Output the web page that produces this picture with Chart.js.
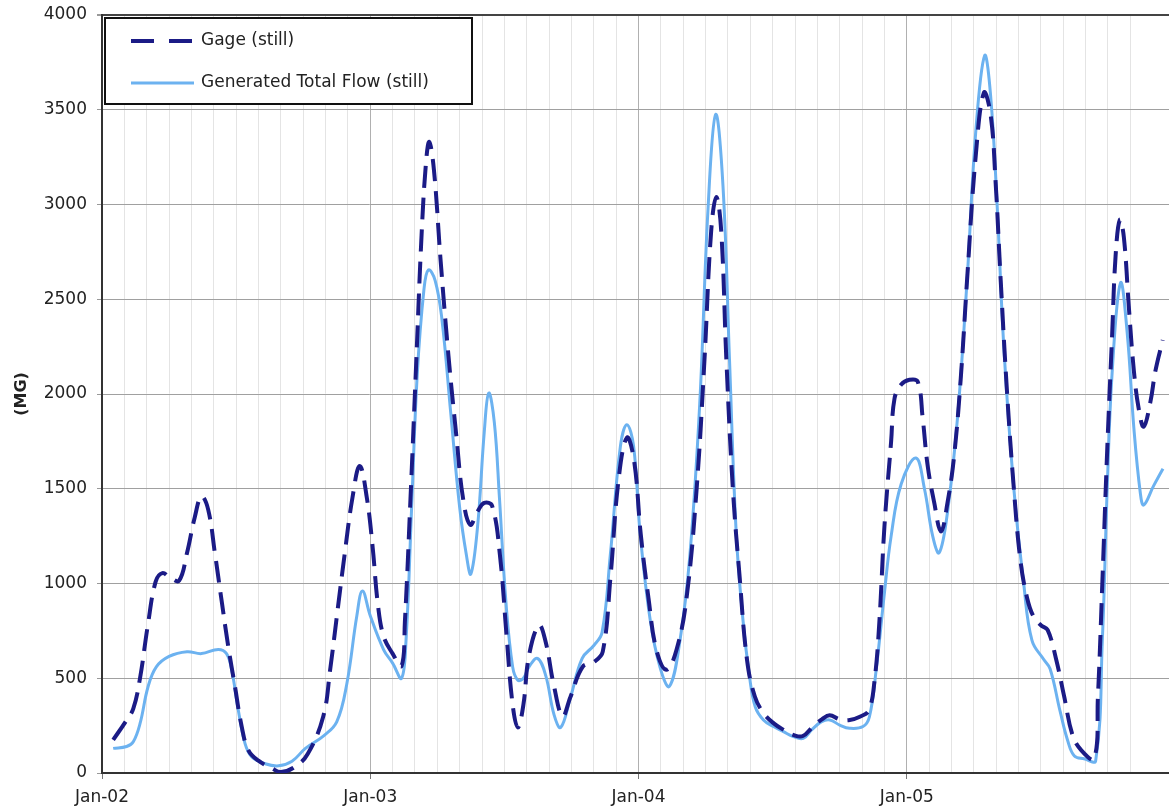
<!DOCTYPE html>
<html>
<head>
<meta charset="utf-8">
<title>Gage vs Generated Total Flow</title>
<script src="https://cdn.jsdelivr.net/npm/chart.js@4.4.1/dist/chart.umd.min.js"></script>
<style>
  html, body { margin: 0; padding: 0; background: #ffffff; overflow: hidden; }
  #flow-chart-canvas { display: block; }
</style>
</head>
<body>
<canvas id="flow-chart-canvas" width="1169" height="812"></canvas>
<script>
// x = months counted from Jan-02
const yearLabels = ['Jan-02', 'Jan-03', 'Jan-04', 'Jan-05'];

const gageMonths = [0.5, 1.05, 1.4, 1.7, 2.05, 2.4, 2.7, 3.05, 3.45, 3.8, 4.15, 4.45, 4.75, 5.05, 5.35, 5.65, 5.95, 6.25, 6.55, 7.0,
  7.6, 8.0, 8.6, 9.2, 9.9, 10.2, 10.55, 10.85, 11.2, 11.53, 11.85, 12.1, 12.35, 12.6, 13.0, 13.4, 13.55, 13.8, 14.05, 14.3,
  14.5, 14.64, 14.85, 15.15, 15.5, 15.85, 16.15, 16.47, 16.8, 17.1, 17.45, 17.8, 18.1, 18.37, 18.6, 18.85, 19.1, 19.55, 19.85, 20.2,
  20.6, 20.95, 21.5, 22.0, 22.4, 22.75, 23.1, 23.48, 23.8, 24.1, 24.45, 24.8, 25.25, 25.7, 26.15, 26.6, 26.95, 27.25, 27.48, 27.7,
  27.93, 28.22, 28.52, 28.85, 29.2, 29.6, 30.05, 30.5, 30.95, 31.35, 31.8, 32.2, 32.55, 33.0, 33.45, 33.9, 34.3, 34.56, 34.78, 35.0,
  35.3, 35.45, 35.75, 36.12, 36.49, 36.71, 36.93, 37.23, 37.53, 37.82, 38.12, 38.41, 38.71, 39.08, 39.45, 39.75, 39.97, 40.19, 40.49, 40.79,
  41.08, 41.38, 41.67, 42.0, 42.3, 42.67, 43.04, 43.41, 43.8, 44.38, 44.55, 44.75, 44.97, 45.19, 45.34, 45.53, 45.71, 45.93, 46.16, 46.38,
  46.6, 46.9, 47.12, 47.45];
const gageValues = [175, 270, 340, 500, 780, 1010, 1055, 1030, 1015, 1160, 1350, 1460, 1390, 1160, 910, 665, 455, 245, 120, 65,
  25, 5, 30, 100, 300, 540, 870, 1150, 1450, 1620, 1450, 1200, 880, 720, 630, 565, 800, 1450, 2150, 2850,
  3230, 3330, 3180, 2700, 2200, 1780, 1450, 1310, 1380, 1425, 1410, 1150, 720, 360, 240, 360, 620, 780, 690, 470,
  300, 400, 560, 585, 640, 1040, 1540, 1770, 1650, 1260, 920, 650, 545, 650, 925, 1500, 2180, 2860, 3040, 2860,
  2180, 1500, 1040, 600, 405, 315, 262, 227, 200, 195, 245, 283, 305, 283, 280, 297, 330, 490, 810, 1300,
  1750, 1975, 2050, 2075, 2065, 1875, 1625, 1425, 1275, 1425, 1675, 2075, 2625, 3250, 3590, 3475, 3125, 2625, 2000, 1500,
  1125, 925, 825, 780, 755, 606, 404, 202, 121, 75, 400, 1010, 1717, 2323, 2727, 2919, 2828, 2465, 2121, 1919,
  1828, 1960, 2121, 2285];

const flowMonths = [0.5, 1.1, 1.4, 1.7, 2.06, 2.43, 3.0, 3.8, 4.45, 5.2, 5.57, 5.8, 6.1, 6.4, 6.7, 7.3, 7.9, 8.5, 9.1, 9.9,
  10.5, 10.95, 11.4, 11.65, 12.0, 12.6, 13.0, 13.4, 13.6, 13.85, 14.1, 14.4, 14.6, 14.9, 15.2, 15.6, 16.0, 16.3, 16.5, 16.8,
  17.1, 17.3, 17.55, 17.78, 18.07, 18.37, 18.6, 18.85, 19.1, 19.48, 19.85, 20.22, 20.52, 20.96, 21.48, 22.0, 22.37, 22.74, 23.19, 23.48,
  23.78, 24.07, 24.52, 24.96, 25.38, 25.85, 26.3, 26.74, 27.11, 27.45, 27.78, 28.07, 28.37, 28.67, 28.96, 29.22, 29.59, 30.04, 30.48, 30.93,
  31.37, 31.74, 32.19, 32.56, 33.0, 33.44, 34.04, 34.33, 34.63, 35.0, 35.3, 35.75, 36.41, 36.79, 37.16, 37.45, 37.82, 38.27, 38.71, 39.08,
  39.48, 39.75, 40.04, 40.34, 40.79, 41.23, 41.6, 42.12, 42.41, 42.86, 43.2, 43.5, 43.93, 44.45, 44.75, 44.97, 45.19, 45.56, 45.86, 46.16,
  46.45, 46.6, 47.04, 47.46];
const flowValues = [130, 140, 165, 260, 455, 560, 615, 640, 630, 652, 630, 545, 330, 155, 85, 49, 38, 62, 130, 195,
  270, 470, 830, 960, 830, 650, 580, 500, 700, 1400, 2100, 2550, 2655, 2600, 2400, 1900, 1400, 1150, 1050, 1300,
  1800, 2005, 1850, 1450, 900, 560, 490, 500, 560, 605, 514, 308, 240, 400, 605, 673, 742, 1153, 1724, 1838,
  1724, 1267, 810, 559, 457, 696, 1153, 1952, 2979, 3475, 3094, 2180, 1267, 810, 514, 350, 280, 245, 218, 192,
  183, 227, 271, 280, 253, 236, 245, 297, 544, 950, 1250, 1525, 1662, 1500, 1250, 1162, 1375, 1875, 2625, 3375,
  3785, 3575, 3000, 2250, 1500, 1000, 700, 600, 550, 325, 170, 90, 75, 65, 707, 1515, 2121, 2586, 2323, 1818,
  1475, 1414, 1515, 1606];

const axisFont = { family: 'DejaVu Sans', size: 17 };

function isYearTick(ctx) {
  return ctx.tick && Number.isInteger(ctx.tick.value) && ctx.tick.value % 12 === 0;
}

// legend drawn as a framed box inside the plot, like the original
const boxLegend = {
  id: 'boxLegend',
  afterDatasetsDraw(chart) {
    const { ctx, chartArea } = chart;
    const left = chartArea.left + 3;
    const top = chartArea.top + 3;
    ctx.save();
    ctx.fillStyle = '#ffffff';
    ctx.fillRect(left, top, 367, 86);
    ctx.strokeStyle = '#111111';
    ctx.lineWidth = 2;
    ctx.strokeRect(left, top, 367, 86);
    chart.data.datasets.forEach((ds, i) => {
      const y = top + 23 + i * 42;
      ctx.beginPath();
      ctx.setLineDash(ds.borderDash ? [23, 15] : []);
      ctx.strokeStyle = ds.borderColor;
      ctx.lineWidth = ds.borderWidth;
      ctx.moveTo(left + 26, y);
      ctx.lineTo(left + 89, y);
      ctx.stroke();
      ctx.setLineDash([]);
      ctx.fillStyle = '#222222';
      ctx.font = '17px "DejaVu Sans"';
      ctx.textBaseline = 'middle';
      ctx.fillText(ds.label, left + 96, y);
    });
    ctx.restore();
  }
};

const ctx = document.getElementById('flow-chart-canvas').getContext('2d');
new Chart(ctx, {
  type: 'line',
  data: {
    datasets: [{
      label: 'Gage (still)',
      data: gageMonths.map((m, i) => ({ x: m, y: gageValues[i] })),
      borderColor: '#1b1b86',
      borderWidth: 4,
      borderDash: [22, 10],
      tension: 0.4,
      pointRadius: 0,
      fill: false
    }, {
      label: 'Generated Total Flow (still)',
      data: flowMonths.map((m, i) => ({ x: m, y: flowValues[i] })),
      borderColor: '#6cb2f0',
      borderWidth: 3,
      tension: 0.4,
      pointRadius: 0,
      fill: false
    }]
  },
  options: {
    responsive: false,
    animation: false,
    layout: { padding: { top: 15, left: 0, right: 0, bottom: 0 } },
    plugins: {
      legend: { display: false },
      tooltip: { enabled: false }
    },
    scales: {
      x: {
        type: 'linear',
        min: 0,
        max: 47.73,
        afterFit(scale) {
          scale.height = 39;
          scale.paddingLeft = 0;
          scale.paddingRight = 0;
        },
        ticks: {
          stepSize: 1,
          maxTicksLimit: 100,
          autoSkip: false,
          maxRotation: 0,
          minRotation: 0,
          padding: 8,
          color: '#222222',
          font: axisFont,
          callback: v => (Number.isInteger(v) && v % 12 === 0) ? yearLabels[v / 12] : ''
        },
        grid: {
          color: c => isYearTick(c) ? '#b0b0b0' : '#e4e4e4',
          tickLength: 6,
          tickColor: c => isYearTick(c) ? '#777777' : 'rgba(0,0,0,0)'
        },
        border: { color: '#333333', width: 2 }
      },
      y: {
        min: 0,
        max: 4000,
        afterFit(scale) {
          scale.width = 102;
          scale.paddingTop = 0;
          scale.paddingBottom = 0;
        },
        ticks: { stepSize: 500, padding: 10, color: '#222222', font: axisFont, callback: v => String(v) },
        grid: {
          color: c => (c.tick && c.tick.value === 4000) ? '#444444' : '#a0a0a0',
          lineWidth: c => (c.tick && c.tick.value === 4000) ? 2 : 1,
          tickLength: 5,
          tickColor: '#999999'
        },
        border: { color: '#333333', width: 2 },
        title: {
          display: true,
          text: '(MG)',
          color: '#222222',
          font: { family: 'DejaVu Sans', size: 16, weight: 'bold' },
          padding: { top: 12, bottom: 0 }
        }
      }
    }
  },
  plugins: [boxLegend]
});
</script>
</body>
</html>
